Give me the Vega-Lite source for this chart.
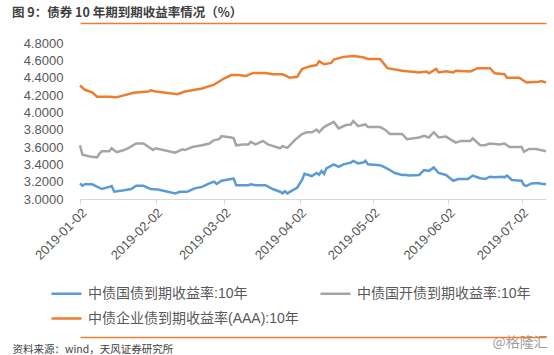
{
  "$schema": "https://vega.github.io/schema/vega-lite/v6.json",
  "width": 466,
  "height": 156,
  "autosize": {"type": "none"},
  "padding": {"left": 80, "top": 43, "right": 8, "bottom": 156},
  "background": "white",
  "config": {"view": {"stroke": null}},
  "title": {"text": "图 9：债券 10 年期到期收益率情况（%）", "anchor": "start", "frame": "group", "dx": -68, "offset": 4, "fontSize": 12.5, "fontWeight": "bold", "color": "#404040", "font": "Noto Sans CJK SC"},
  "datasets": {
    "g": [
      {"d":"2019/01/02","v":3.18},{"d":"2019/01/03","v":3.153},{"d":"2019/01/04","v":3.17},{"d":"2019/01/07","v":3.17},{"d":"2019/01/11","v":3.115},{"d":"2019/01/14","v":3.14},{"d":"2019/01/15","v":3.15},{"d":"2019/01/16","v":3.084},{"d":"2019/01/20","v":3.10},{"d":"2019/01/23","v":3.115},{"d":"2019/01/25","v":3.153},{"d":"2019/01/28","v":3.153},{"d":"2019/01/31","v":3.115},{"d":"2019/02/03","v":3.11},{"d":"2019/02/10","v":3.065},{"d":"2019/02/12","v":3.084},{"d":"2019/02/15","v":3.084},{"d":"2019/02/18","v":3.123},{"d":"2019/02/21","v":3.14},{"d":"2019/02/24","v":3.18},{"d":"2019/02/26","v":3.20},{"d":"2019/02/27","v":3.173},{"d":"2019/03/01","v":3.21},{"d":"2019/03/05","v":3.23},{"d":"2019/03/06","v":3.235},{"d":"2019/03/07","v":3.16},{"d":"2019/03/12","v":3.16},{"d":"2019/03/13","v":3.17},{"d":"2019/03/15","v":3.16},{"d":"2019/03/19","v":3.16},{"d":"2019/03/22","v":3.115},{"d":"2019/03/25","v":3.084},{"d":"2019/03/26","v":3.065},{"d":"2019/03/27","v":3.09},{"d":"2019/03/28","v":3.065},{"d":"2019/03/30","v":3.10},{"d":"2019/04/01","v":3.13},{"d":"2019/04/03","v":3.22},{"d":"2019/04/04","v":3.29},{"d":"2019/04/07","v":3.265},{"d":"2019/04/09","v":3.30},{"d":"2019/04/10","v":3.28},{"d":"2019/04/11","v":3.323},{"d":"2019/04/12","v":3.29},{"d":"2019/04/13","v":3.354},{"d":"2019/04/16","v":3.40},{"d":"2019/04/18","v":3.37},{"d":"2019/04/20","v":3.40},{"d":"2019/04/23","v":3.42},{"d":"2019/04/24","v":3.44},{"d":"2019/04/26","v":3.41},{"d":"2019/04/28","v":3.42},{"d":"2019/04/29","v":3.44},{"d":"2019/04/30","v":3.40},{"d":"2019/05/05","v":3.39},{"d":"2019/05/07","v":3.365},{"d":"2019/05/09","v":3.334},{"d":"2019/05/11","v":3.30},{"d":"2019/05/14","v":3.277},{"d":"2019/05/15","v":3.28},{"d":"2019/05/17","v":3.27},{"d":"2019/05/21","v":3.277},{"d":"2019/05/23","v":3.334},{"d":"2019/05/25","v":3.325},{"d":"2019/05/27","v":3.365},{"d":"2019/05/29","v":3.30},{"d":"2019/06/01","v":3.277},{"d":"2019/06/04","v":3.21},{"d":"2019/06/06","v":3.23},{"d":"2019/06/10","v":3.23},{"d":"2019/06/12","v":3.27},{"d":"2019/06/15","v":3.24},{"d":"2019/06/17","v":3.23},{"d":"2019/06/19","v":3.257},{"d":"2019/06/21","v":3.25},{"d":"2019/06/24","v":3.257},{"d":"2019/06/25","v":3.25},{"d":"2019/06/26","v":3.27},{"d":"2019/06/28","v":3.22},{"d":"2019/07/02","v":3.21},{"d":"2019/07/03","v":3.16},{"d":"2019/07/04","v":3.15},{"d":"2019/07/06","v":3.18},{"d":"2019/07/09","v":3.185},{"d":"2019/07/10","v":3.175},{"d":"2019/07/12","v":3.17}
    ],
    "k": [
      {"d":"2019/01/02","v":3.62},{"d":"2019/01/03","v":3.51},{"d":"2019/01/06","v":3.49},{"d":"2019/01/09","v":3.48},{"d":"2019/01/10","v":3.525},{"d":"2019/01/11","v":3.55},{"d":"2019/01/14","v":3.55},{"d":"2019/01/15","v":3.585},{"d":"2019/01/17","v":3.54},{"d":"2019/01/20","v":3.565},{"d":"2019/01/22","v":3.59},{"d":"2019/01/25","v":3.64},{"d":"2019/01/28","v":3.64},{"d":"2019/02/01","v":3.565},{"d":"2019/02/02","v":3.585},{"d":"2019/02/10","v":3.535},{"d":"2019/02/13","v":3.573},{"d":"2019/02/14","v":3.565},{"d":"2019/02/17","v":3.60},{"d":"2019/02/21","v":3.62},{"d":"2019/02/24","v":3.64},{"d":"2019/02/26","v":3.68},{"d":"2019/02/28","v":3.69},{"d":"2019/03/01","v":3.725},{"d":"2019/03/05","v":3.71},{"d":"2019/03/06","v":3.70},{"d":"2019/03/07","v":3.62},{"d":"2019/03/10","v":3.63},{"d":"2019/03/12","v":3.63},{"d":"2019/03/13","v":3.66},{"d":"2019/03/15","v":3.63},{"d":"2019/03/18","v":3.67},{"d":"2019/03/20","v":3.63},{"d":"2019/03/25","v":3.585},{"d":"2019/03/26","v":3.61},{"d":"2019/03/28","v":3.59},{"d":"2019/03/31","v":3.68},{"d":"2019/04/03","v":3.75},{"d":"2019/04/05","v":3.77},{"d":"2019/04/07","v":3.77},{"d":"2019/04/09","v":3.80},{"d":"2019/04/10","v":3.77},{"d":"2019/04/12","v":3.83},{"d":"2019/04/16","v":3.89},{"d":"2019/04/18","v":3.815},{"d":"2019/04/21","v":3.853},{"d":"2019/04/23","v":3.86},{"d":"2019/04/24","v":3.90},{"d":"2019/04/26","v":3.84},{"d":"2019/04/29","v":3.86},{"d":"2019/04/30","v":3.83},{"d":"2019/05/05","v":3.83},{"d":"2019/05/07","v":3.80},{"d":"2019/05/09","v":3.75},{"d":"2019/05/14","v":3.75},{"d":"2019/05/16","v":3.69},{"d":"2019/05/21","v":3.71},{"d":"2019/05/23","v":3.73},{"d":"2019/05/25","v":3.71},{"d":"2019/05/27","v":3.77},{"d":"2019/05/29","v":3.71},{"d":"2019/06/01","v":3.72},{"d":"2019/06/05","v":3.65},{"d":"2019/06/07","v":3.67},{"d":"2019/06/11","v":3.67},{"d":"2019/06/12","v":3.70},{"d":"2019/06/15","v":3.62},{"d":"2019/06/17","v":3.62},{"d":"2019/06/19","v":3.64},{"d":"2019/06/23","v":3.63},{"d":"2019/06/25","v":3.64},{"d":"2019/06/27","v":3.60},{"d":"2019/07/02","v":3.60},{"d":"2019/07/03","v":3.545},{"d":"2019/07/05","v":3.577},{"d":"2019/07/08","v":3.577},{"d":"2019/07/12","v":3.55}
    ],
    "q": [
      {"d":"2019/01/02","v":4.31},{"d":"2019/01/04","v":4.26},{"d":"2019/01/07","v":4.23},{"d":"2019/01/09","v":4.18},{"d":"2019/01/14","v":4.18},{"d":"2019/01/17","v":4.175},{"d":"2019/01/22","v":4.21},{"d":"2019/01/24","v":4.225},{"d":"2019/01/30","v":4.24},{"d":"2019/01/31","v":4.255},{"d":"2019/02/02","v":4.24},{"d":"2019/02/11","v":4.21},{"d":"2019/02/14","v":4.24},{"d":"2019/02/17","v":4.255},{"d":"2019/02/21","v":4.275},{"d":"2019/02/26","v":4.32},{"d":"2019/03/02","v":4.39},{"d":"2019/03/05","v":4.43},{"d":"2019/03/08","v":4.43},{"d":"2019/03/11","v":4.42},{"d":"2019/03/14","v":4.455},{"d":"2019/03/19","v":4.455},{"d":"2019/03/22","v":4.44},{"d":"2019/03/26","v":4.44},{"d":"2019/03/29","v":4.40},{"d":"2019/04/01","v":4.41},{"d":"2019/04/03","v":4.50},{"d":"2019/04/06","v":4.53},{"d":"2019/04/09","v":4.545},{"d":"2019/04/10","v":4.59},{"d":"2019/04/12","v":4.555},{"d":"2019/04/15","v":4.57},{"d":"2019/04/16","v":4.61},{"d":"2019/04/20","v":4.64},{"d":"2019/04/24","v":4.65},{"d":"2019/04/28","v":4.635},{"d":"2019/04/30","v":4.615},{"d":"2019/05/05","v":4.615},{"d":"2019/05/08","v":4.51},{"d":"2019/05/14","v":4.48},{"d":"2019/05/21","v":4.46},{"d":"2019/05/24","v":4.47},{"d":"2019/05/25","v":4.45},{"d":"2019/05/28","v":4.50},{"d":"2019/05/29","v":4.46},{"d":"2019/06/01","v":4.475},{"d":"2019/06/04","v":4.46},{"d":"2019/06/05","v":4.48},{"d":"2019/06/11","v":4.47},{"d":"2019/06/14","v":4.51},{"d":"2019/06/19","v":4.51},{"d":"2019/06/21","v":4.45},{"d":"2019/06/25","v":4.44},{"d":"2019/06/26","v":4.40},{"d":"2019/07/01","v":4.40},{"d":"2019/07/04","v":4.345},{"d":"2019/07/09","v":4.353},{"d":"2019/07/10","v":4.36},{"d":"2019/07/12","v":4.345}
    ]
  },
  "layer": [
    {
      "data": {"name": "g"},
      "mark": {"type": "line", "strokeWidth": 2.5},
      "encoding": {
        "x": {"field": "d", "type": "temporal",
          "scale": {"domain": [{"year": 2019, "month": 1, "date": 2}, {"year": 2019, "month": 7, "date": 12}], "nice": false},
          "axis": {"orient": "bottom", "title": null, "grid": false, "format": "%Y-%m-%d", "labelAngle": -45, "labelFontSize": 13, "labelColor": "#595959", "labelFont": "Liberation Sans", "domainColor": "#D9D9D9", "domainWidth": 1, "tickColor": "#D9D9D9", "tickSize": 5, "labelPadding": 2, "labelOverlap": false, "labelBound": false, "labelFlush": false,
            "values": [{"year": 2019, "month": 1, "date": 2}, {"year": 2019, "month": 2, "date": 2}, {"year": 2019, "month": 3, "date": 2}, {"year": 2019, "month": 4, "date": 2}, {"year": 2019, "month": 5, "date": 2}, {"year": 2019, "month": 6, "date": 2}, {"year": 2019, "month": 7, "date": 2}]}},
        "y": {"field": "v", "type": "quantitative",
          "scale": {"domain": [3.0, 4.8], "zero": false, "nice": false},
          "axis": {"title": null, "grid": false, "ticks": false, "domain": false, "format": ".4f", "values": [3.0, 3.2, 3.4, 3.6, 3.8, 4.0, 4.2, 4.4, 4.6, 4.8], "labelFontSize": 13, "labelColor": "#595959", "labelFont": "Liberation Sans", "labelPadding": 17}},
        "color": {"datum": "中债国债到期收益率:10年",
          "scale": {"domain": ["中债国债到期收益率:10年", "中债国开债到期收益率:10年", "中债企业债到期收益率(AAA):10年"], "range": ["#5B9BD5", "#A5A5A5", "#ED7D31"]},
          "legend": {"title": null, "orient": "none", "legendX": -30, "legendY": 234, "direction": "horizontal", "columns": 2, "symbolType": "stroke", "symbolSize": 900, "symbolStrokeWidth": 2.5, "labelFontSize": 14, "labelColor": "#595959", "labelFont": "Liberation Sans, Noto Sans CJK SC", "labelOffset": 5, "columnPadding": 16, "rowPadding": 1, "labelLimit": 400, "padding": 0}}
      }
    },
    {
      "data": {"name": "k"},
      "mark": {"type": "line", "strokeWidth": 2.5},
      "encoding": {
        "x": {"field": "d", "type": "temporal", "axis": null},
        "y": {"field": "v", "type": "quantitative", "axis": null},
        "color": {"datum": "中债国开债到期收益率:10年"}
      }
    },
    {
      "data": {"name": "q"},
      "mark": {"type": "line", "strokeWidth": 2.5},
      "encoding": {
        "x": {"field": "d", "type": "temporal", "axis": null},
        "y": {"field": "v", "type": "quantitative", "axis": null},
        "color": {"datum": "中债企业债到期收益率(AAA):10年"}
      }
    },
    {
      "data": {"name": "q"},
      "mark": {"type": "line", "strokeOpacity": 0},
      "encoding": {
        "x": {"field": "d", "type": "temporal",
          "axis": {"orient": "top", "offset": 20, "grid": false, "ticks": false, "labels": false, "domain": true, "domainColor": "#ED7D31", "domainWidth": 1.5,
            "title": "@格隆汇", "titleX": 412, "titleY": 319, "titleAlign": "left", "titleAnchor": null, "titleBaseline": "middle", "titleFontSize": 14, "titleFontWeight": "normal", "titleColor": "#9E9E9E", "titleFont": "Noto Sans CJK SC"}},
        "y": {"field": "v", "type": "quantitative", "axis": null}
      }
    },
    {
      "data": {"name": "q"},
      "mark": {"type": "line", "strokeOpacity": 0},
      "encoding": {
        "x": {"field": "d", "type": "temporal",
          "axis": {"orient": "bottom", "offset": 138, "grid": false, "ticks": false, "labels": false, "domain": true, "domainColor": "#ED7D31", "domainWidth": 1.5,
            "title": "资料来源：wind，天风证券研究所", "titleX": -68, "titleY": 12, "titleAlign": "left", "titleAnchor": null, "titleBaseline": "middle", "titleFontSize": 10.5, "titleFontWeight": "normal", "titleColor": "#404040", "titleFont": "Noto Sans CJK SC"}},
        "y": {"field": "v", "type": "quantitative", "axis": null}
      }
    }
  ],
  "resolve": {"axis": {"x": "independent", "y": "independent"}}
}
